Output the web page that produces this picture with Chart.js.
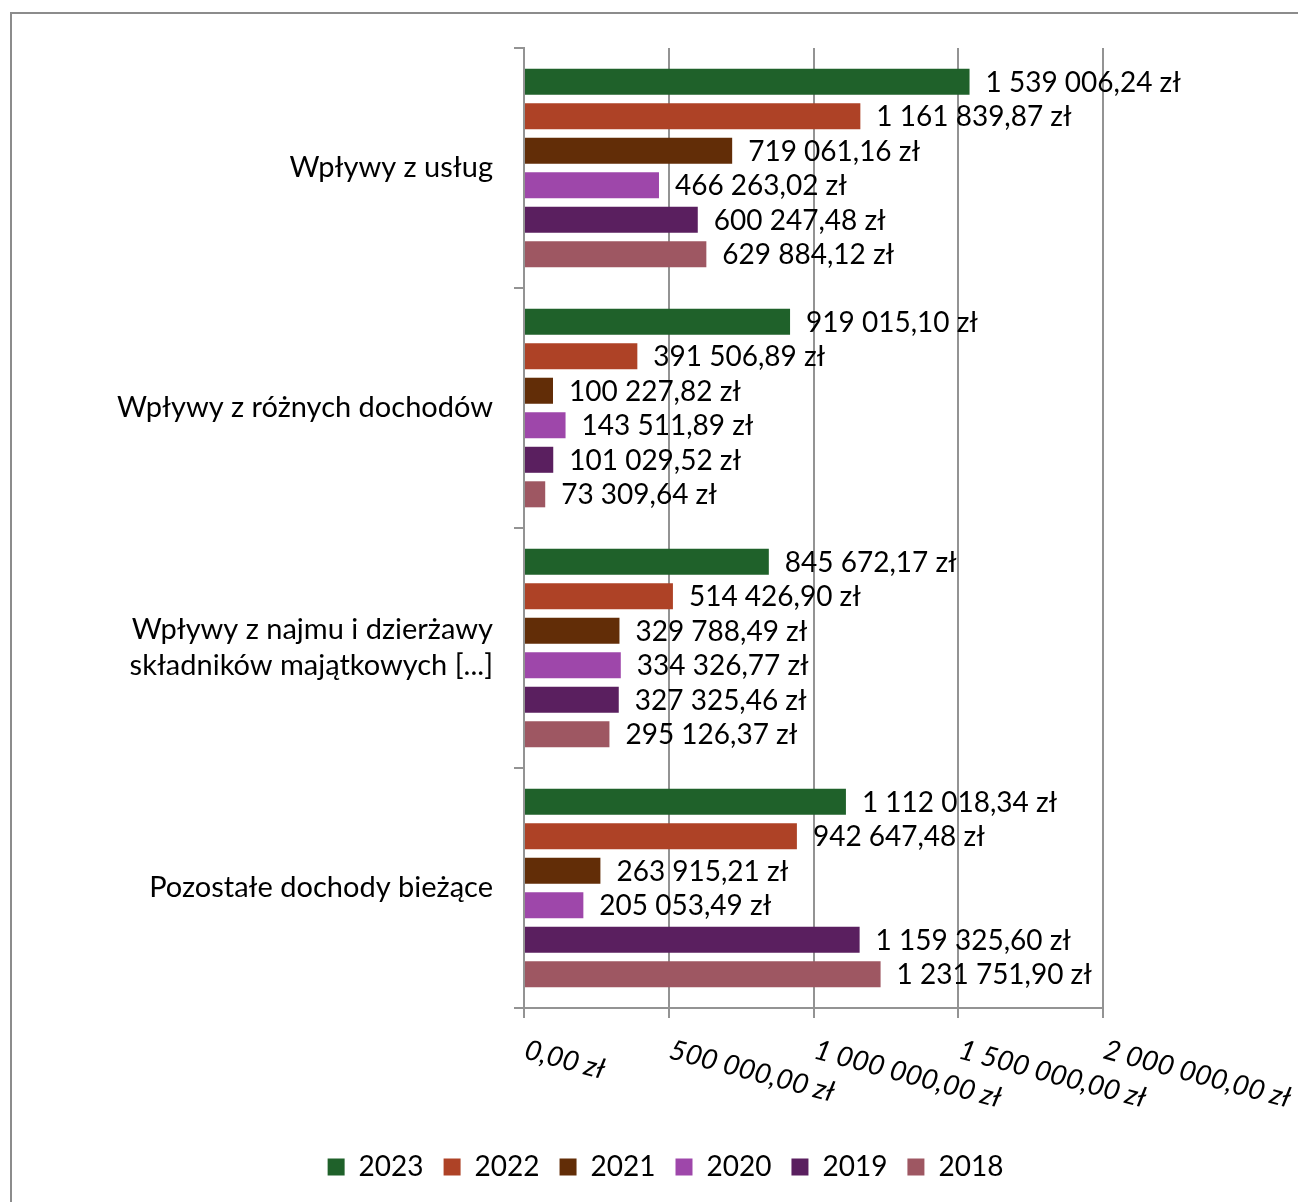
<!DOCTYPE html>
<html lang="pl">
<head>
    <meta charset="UTF-8">
    <title>Wpływy 2018-2023</title>
    <script src="https://cdn.jsdelivr.net/npm/chart.js"></script>
    <style>
        html, body {
            margin: 0;
            padding: 0;
            background: #fff;
            overflow: hidden;
        }
        .frame {
            position: absolute;
            left: 10px;
            top: 12px;
            width: 1400px;
            height: 1300px;
            border: 2px solid #8c8c8c;
        }
        .chart-box {
            position: absolute;
            left: 0;
            top: 0;
            width: 1298px;
            height: 1202px;
        }
    </style>
</head>
<body>
    <div class="frame"></div>
    <div class="chart-box"><canvas id="incomeChart"></canvas></div>

    <script>
        const categories = [
            'Wpływy z usług',
            'Wpływy z różnych dochodów',
            ['Wpływy z najmu i dzierżawy', 'składników majątkowych [...]'],
            'Pozostałe dochody bieżące'
        ];
        const years = ['2023', '2022', '2021', '2020', '2019', '2018'];
        const yearColors = ['#1f612a', '#ae4226', '#622d07', '#9e47aa', '#5a1f5f', '#9e5762'];

        const values2023 = [1539006.24, 919015.10, 845672.17, 1112018.34];
        const values2022 = [1161839.87, 391506.89, 514426.90, 942647.48];
        const values2021 = [719061.16, 100227.82, 329788.49, 263915.21];
        const values2020 = [466263.02, 143511.89, 334326.77, 205053.49];
        const values2019 = [600247.48, 101029.52, 327325.46, 1159325.60];
        const values2018 = [629884.12, 73309.64, 295126.37, 1231751.90];

        const xMax = 2000000;
        const xStep = 500000;

        const FONT = 'Lato';
        const FONT_SIZE = 28;
        const gridColor = '#939393';

        function formatZl(v) {
            const parts = v.toFixed(2).split('.');
            const intPart = parts[0].replace(/\B(?=(\d{3})+(?!\d))/g, ' ');
            return intPart + ',' + parts[1] + ' zł';
        }

        // value labels to the right of each bar
        const valueLabels = {
            id: 'valueLabels',
            afterDatasetsDraw(chart) {
                const ctx = chart.ctx;
                ctx.save();
                ctx.font = FONT_SIZE + 'px ' + FONT;
                ctx.fillStyle = '#000';
                ctx.textAlign = 'left';
                ctx.textBaseline = 'middle';
                chart.data.datasets.forEach((ds, i) => {
                    chart.getDatasetMeta(i).data.forEach((bar, j) => {
                        ctx.fillText(formatZl(ds.data[j]), bar.x + 16, bar.y + 1);
                    });
                });
                ctx.restore();
            }
        };

        // x tick labels slanted downwards to the right
        const slantedTicks = {
            id: 'slantedTicks',
            afterDraw(chart) {
                const scale = chart.scales.x;
                const ctx = chart.ctx;
                ctx.save();
                ctx.font = 'italic ' + FONT_SIZE + 'px ' + FONT;
                ctx.fillStyle = '#000';
                ctx.textAlign = 'left';
                ctx.textBaseline = 'alphabetic';
                scale.ticks.forEach(t => {
                    const x = scale.getPixelForValue(t.value);
                    ctx.save();
                    ctx.translate(x - 1, scale.top + 50);
                    ctx.rotate(15 * Math.PI / 180);
                    ctx.fillText(formatZl(t.value), 0, 0);
                    ctx.restore();
                });
                ctx.restore();
            }
        };

        // legend sits centred under the whole picture, not under the plot
        const legendShift = {
            id: 'legendShift',
            afterLayout(chart) {
                chart.legend.left += 228;
            }
        };

        function drawChart() {
            const seriesValues = [values2023, values2022, values2021, values2020, values2019, values2018];
            const ctx = document.getElementById('incomeChart').getContext('2d');
            new Chart(ctx, {
                type: 'bar',
                data: {
                    labels: categories,
                    datasets: years.map((y, i) => ({
                        label: y,
                        data: seriesValues[i],
                        backgroundColor: yearColors[i],
                        borderWidth: 0,
                        barPercentage: 0.754,
                        categoryPercentage: 0.863
                    }))
                },
                options: {
                    indexAxis: 'y',
                    responsive: true,
                    maintainAspectRatio: false,
                    animation: false,
                    devicePixelRatio: 1,
                    layout: {
                        padding: { top: 48, left: 0, right: 195, bottom: 11 }
                    },
                    scales: {
                        x: {
                            min: 0,
                            max: xMax,
                            ticks: { display: false, stepSize: xStep },
                            grid: { color: gridColor, lineWidth: 2, tickLength: 10 },
                            border: { color: gridColor, width: 2 },
                            afterFit(scale) { scale.height = 125; }
                        },
                        y: {
                            grid: { display: true, drawOnChartArea: false, color: gridColor, lineWidth: 2, tickLength: 10, offset: true },
                            border: { color: gridColor, width: 2 },
                            ticks: {
                                color: '#000',
                                padding: 21,
                                font: { family: FONT, size: 29, lineHeight: 1.25 }
                            },
                            afterFit(scale) { scale.width = 524; }
                        }
                    },
                    plugins: {
                        legend: {
                            position: 'bottom',
                            labels: {
                                boxWidth: 17,
                                boxHeight: 17,
                                padding: 20,
                                color: '#000',
                                font: { family: FONT, size: FONT_SIZE }
                            }
                        },
                        tooltip: { enabled: false }
                    }
                },
                plugins: [valueLabels, slantedTicks, legendShift]
            });
        }

        document.fonts.load(FONT_SIZE + 'px ' + FONT).then(drawChart, drawChart);
    </script>
</body>
</html>
